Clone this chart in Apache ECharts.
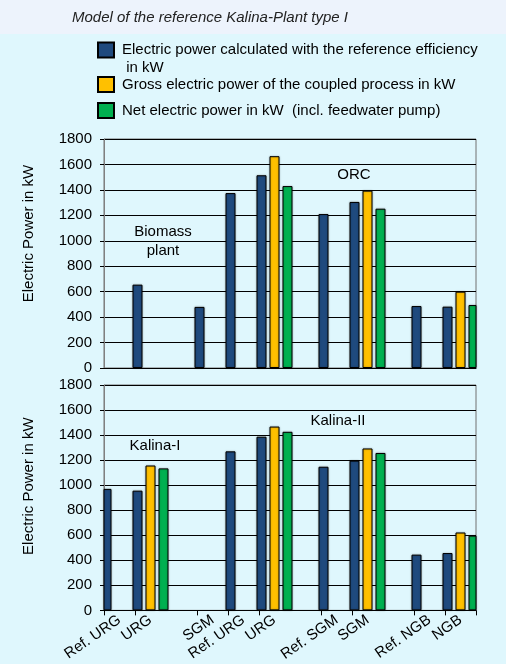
<!DOCTYPE html>
<html>
<head>
<meta charset="utf-8">
<script src="https://cdn.jsdelivr.net/npm/echarts@6/dist/echarts.min.js"></script>
<style>
  html, body { margin: 0; padding: 0; background: #DFF7FD; }
  #chart { width: 506px; height: 664px; }
</style>
</head>
<body>
<div id="chart"></div>
<script>
// categories of the shared x axis (blank slots are the gaps between groups)
const categories = ['Ref. URG', 'URG', '', 'SGM', 'Ref. URG', 'URG', '', 'Ref. SGM', 'SGM', '', 'Ref. NGB', 'NGB']

const seriesNames = [
  'Electric power calculated with the reference efficiency\n in kW',
  'Gross electric power of the coupled process in kW',
  'Net electric power in kW  (incl. feedwater pump)'
]

// upper panel: biomass plant / ORC
const refTop   = [null, 655, null, 480, 1375, 1515, null, 1210, 1305, null, 487, 482]
const grossTop = [null, null, null, null, null, 1665, null, null, 1394, null, null, 600]
const netTop   = [null, null, null, null, null, 1430, null, null, 1252, null, null, 495]

// lower panel: Kalina-I / Kalina-II
const refBottom   = [970, 956, null, null, 1270, 1387, null, 1147, 1196, null, 445, 458]
const grossBottom = [null, 1157, null, null, null, 1468, null, null, 1293, null, null, 622]
const netBottom   = [null, 1134, null, null, null, 1426, null, null, 1257, null, null, 597]

const yTicks = { min: 0, max: 1800, interval: 200 }

const colors = ['#1F4A7E', '#FFC000', '#00B050']
const font = 'Liberation Sans'

const chart = echarts.init(document.getElementById('chart'), null, { renderer: 'canvas' })

function barSeries(data, i, gridIdx) {
  return {
    name: seriesNames[i],
    type: 'bar',
    xAxisIndex: gridIdx,
    yAxisIndex: gridIdx,
    data: data,
    barWidth: 10,
    barGap: '30%',
    itemStyle: {
      color: colors[i],
      borderColor: '#000',
      borderWidth: 1,
      shadowColor: 'rgba(0,0,0,0.3)',
      shadowBlur: 2
    },
    emphasis: { disabled: true }
  }
}

function yAxis(gridIdx, shiftUp) {
  return {
    type: 'value',
    gridIndex: gridIdx,
    min: yTicks.min,
    max: yTicks.max,
    interval: yTicks.interval,
    name: 'Electric Power in kW',
    nameLocation: 'middle',
    nameGap: 68,
    nameTextStyle: { fontSize: 15, color: '#000', padding: [0, 0, 0, shiftUp] },
    axisLine: { show: true, lineStyle: { color: '#808080' } },
    axisTick: { show: true, length: 4, lineStyle: { color: '#000' } },
    axisLabel: { fontSize: 15, color: '#000', margin: 12, formatter: v => String(v) },
    splitLine: { lineStyle: { color: '#000', width: 1 } }
  }
}

function legend(name, top, extra) {
  return Object.assign({
    data: [name],
    orient: 'vertical',
    left: 97,
    top: top,
    padding: 0,
    icon: 'rect',
    itemWidth: 16,
    itemHeight: 15,
    selectedMode: false,
    textStyle: { fontSize: 15, color: '#000', lineHeight: 17, padding: [0, 0, 0, 3] }
  }, extra || {})
}

const tickSlots = [0, 1, 3, 4, 5, 7, 8, 10, 11]

chart.setOption({
  backgroundColor: '#DFF7FD',
  textStyle: { fontFamily: font },
  animation: false,
  title: {
    text: 'Model of the reference Kalina-Plant type I',
    left: 72,
    top: 10,
    padding: 0,
    textStyle: { fontSize: 15, fontStyle: 'italic', fontWeight: 'normal', color: '#222', fontFamily: font }
  },
  legend: [
    // leading blank line keeps the icon level with the first text line
    legend(seriesNames[0], 23, {
      formatter: name => '\n' + name,
      textStyle: { fontSize: 15, color: '#000', lineHeight: 18, padding: [0, 0, 0, 3] }
    }),
    legend(seriesNames[1], 76),
    legend(seriesNames[2], 102)
  ],
  grid: [
    { left: 104, right: 30, top: 139, height: 229, show: true, borderColor: '#707070', borderWidth: 1, backgroundColor: 'transparent' },
    { left: 104, right: 30, top: 385, height: 229, show: true, borderColor: '#707070', borderWidth: 1, backgroundColor: 'transparent' }
  ],
  xAxis: [
    {
      type: 'category',
      gridIndex: 0,
      data: categories,
      axisLine: { lineStyle: { color: '#000' } },
      axisTick: { show: false },
      axisLabel: { show: false }
    },
    {
      type: 'category',
      gridIndex: 1,
      data: categories,
      axisLine: { lineStyle: { color: '#000' } },
      axisTick: {
        show: true,
        length: 5,
        interval: (index) => tickSlots.includes(index),
        lineStyle: { color: '#000' }
      },
      axisLabel: { interval: 0, rotate: 35, fontSize: 15, color: '#000', margin: 8 }
    }
  ],
  yAxis: [yAxis(0, 40), yAxis(1, 23)],
  graphic: [
    { type: 'rect', left: 0, top: 0, z: -1, shape: { width: 506, height: 34 }, style: { fill: '#EDF3FC' } },
    { type: 'text', x: 163, y: 241, z: 10, style: { text: 'Biomass\nplant', align: 'center', verticalAlign: 'middle', fontSize: 15, lineHeight: 19, fontFamily: font, fill: '#000' } },
    { type: 'text', x: 354, y: 175, z: 10, style: { text: 'ORC', align: 'center', verticalAlign: 'middle', fontSize: 15, fontFamily: font, fill: '#000' } },
    { type: 'text', x: 155, y: 446, z: 10, style: { text: 'Kalina-I', align: 'center', verticalAlign: 'middle', fontSize: 15, fontFamily: font, fill: '#000' } },
    { type: 'text', x: 338, y: 421, z: 10, style: { text: 'Kalina-II', align: 'center', verticalAlign: 'middle', fontSize: 15, fontFamily: font, fill: '#000' } }
  ],
  series: [
    barSeries(refTop, 0, 0),
    barSeries(grossTop, 1, 0),
    barSeries(netTop, 2, 0),
    barSeries(refBottom, 0, 1),
    barSeries(grossBottom, 1, 1),
    barSeries(netBottom, 2, 1)
  ]
})
</script>
</body>
</html>
